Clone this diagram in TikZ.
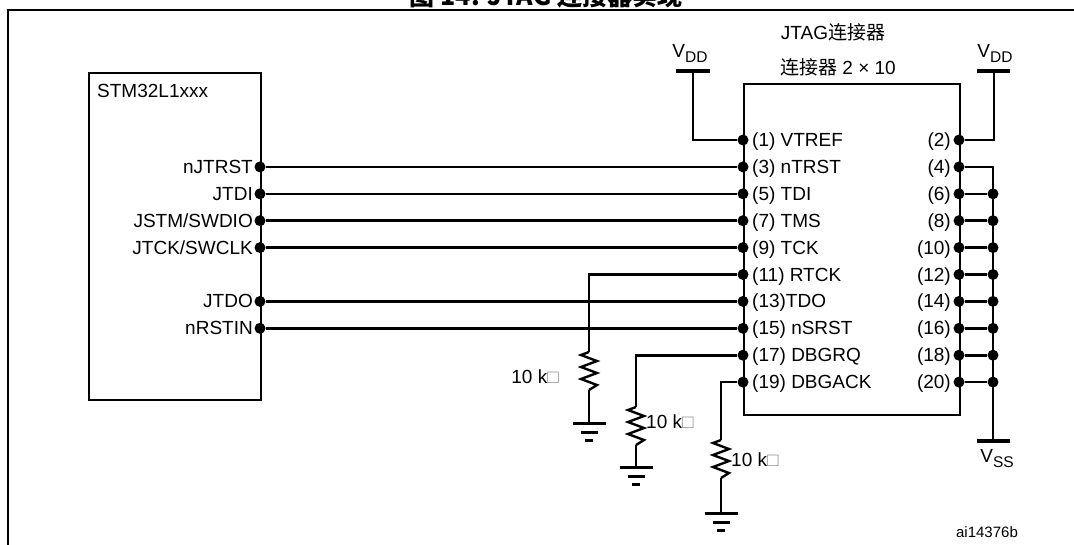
\documentclass[tikz,border=0pt]{standalone}
\usepackage{fontspec}
\setmainfont{Liberation Sans}
\newfontfamily\cjk{Noto Sans CJK SC}
\newcommand{\subtxt}[1]{\raisebox{-5pt}{\fontsize{15.5}{18}\selectfont #1}}
\begin{document}
\begin{tikzpicture}[x=1pt,y=-1pt,
  wire/.style={line width=2.6pt},
  boxline/.style={draw,line width=2.3pt,inner sep=0pt,anchor=north west},
  pindot/.style={circle,fill,inner sep=0pt,minimum size=11pt},
  lbl/.style={font=\fontsize{19}{22}\selectfont,inner sep=0pt},
  lblL/.style={lbl,anchor=base west},
  lblR/.style={lbl,anchor=base east},
  railbar/.style={line width=4.5pt},
  res/.pic={\draw[line width=2.4pt,line join=miter] (0,0) -- (-8,3) -- (8,9) -- (-8,15) -- (8,21) -- (-8,27) -- (8,33) -- (0,38);},
  gnd/.pic={\draw[line width=3pt] (-16.5,0) -- (16.5,0) (-8.5,9) -- (8.5,9) (-4,17) -- (4,17);}
]
\useasboundingbox (0,0) rectangle (1074,544);

% title (cut off at top) and outer frame
\node (title) [font=\cjk\bfseries\fontsize{25}{30}\selectfont,anchor=base,inner sep=0pt] at (546,5) {图 14. JTAG 连接器实现};
\draw[line width=2.6pt] (8,570) -- (8,10) -- (1100,10);

% MCU box
\node (stm) [boxline,minimum width=172pt,minimum height=327pt] at (88,72) {};
\node (stmlbl) [lbl,anchor=base west] at (97,97) {STM32L1xxx};

% connector box
\node (conn) [boxline,minimum width=216pt,minimum height=331pt] at (743,83) {};
\node (jtaglbl) [lbl,anchor=base] at (833,39) {JTAG{\cjk 连接器}};
\node (connlbl) [lbl,anchor=base] at (838,74) {{\cjk 连接器} 2 × 10};

% MCU pins
\node (s1) [pindot] at (260,166.9) {};
\node (s2) [pindot] at (260,193.8) {};
\node (s3) [pindot] at (260,220.7) {};
\node (s4) [pindot] at (260,247.6) {};
\node (s6) [pindot] at (260,301.4) {};
\node (s7) [pindot] at (260,328.3) {};
\node [lblR] at (253,173.4) {nJTRST};
\node [lblR] at (253,200.3) {JTDI};
\node [lblR] at (253,227.2) {JSTM/SWDIO};
\node [lblR] at (253,254.1) {JTCK/SWCLK};
\node [lblR] at (253,307.9) {JTDO};
\node [lblR] at (253,334.8) {nRSTIN};

% connector left pins
\node (c1) [pindot] at (743,140) {};
\node (c3) [pindot] at (743,166.9) {};
\node (c5) [pindot] at (743,193.8) {};
\node (c7) [pindot] at (743,220.7) {};
\node (c9) [pindot] at (743,247.6) {};
\node (c11) [pindot] at (743,274.5) {};
\node (c13) [pindot] at (743,301.4) {};
\node (c15) [pindot] at (743,328.3) {};
\node (c17) [pindot] at (743,355.2) {};
\node (c19) [pindot] at (743,382.1) {};
\node [lblL] at (752,146.5) {(1) VTREF};
\node [lblL] at (752,173.4) {(3) nTRST};
\node [lblL] at (752,200.3) {(5) TDI};
\node [lblL] at (752,227.2) {(7) TMS};
\node [lblL] at (752,254.1) {(9) TCK};
\node [lblL] at (752,281.0) {(11) RTCK};
\node [lblL] at (752,307.9) {(13)TDO};
\node [lblL] at (752,334.8) {(15) nSRST};
\node [lblL] at (752,361.7) {(17) DBGRQ};
\node [lblL] at (752,388.6) {(19) DBGACK};

% connector right pins
\node (r2) [pindot] at (959,140) {};
\node (r4) [pindot] at (959,166.9) {};
\node (r6) [pindot] at (959,193.8) {};
\node (r8) [pindot] at (959,220.7) {};
\node (r10) [pindot] at (959,247.6) {};
\node (r12) [pindot] at (959,274.5) {};
\node (r14) [pindot] at (959,301.4) {};
\node (r16) [pindot] at (959,328.3) {};
\node (r18) [pindot] at (959,355.2) {};
\node (r20) [pindot] at (959,382.1) {};
\node [lblR] at (951,146.5) {(2)};
\node [lblR] at (951,173.4) {(4)};
\node [lblR] at (951,200.3) {(6)};
\node [lblR] at (951,227.2) {(8)};
\node [lblR] at (951,254.1) {(10)};
\node [lblR] at (951,281.0) {(12)};
\node [lblR] at (951,307.9) {(14)};
\node [lblR] at (951,334.8) {(16)};
\node [lblR] at (951,361.7) {(18)};
\node [lblR] at (951,388.6) {(20)};

% VSS bus junctions
\coordinate (k4) at (993,166.9);
\node (j6) [pindot] at (993,193.8) {};
\node (j8) [pindot] at (993,220.7) {};
\node (j10) [pindot] at (993,247.6) {};
\node (j12) [pindot] at (993,274.5) {};
\node (j14) [pindot] at (993,301.4) {};
\node (j16) [pindot] at (993,328.3) {};
\node (j18) [pindot] at (993,355.2) {};
\node (j20) [pindot] at (993,382.1) {};
\coordinate (vss) at (993,441);
\draw[wire] (r4) -- (k4) -- (vss);
\draw[wire] (r6) -- (j6);
\draw[wire] (r8) -- (j8);
\draw[wire] (r10) -- (j10);
\draw[wire] (r12) -- (j12);
\draw[wire] (r14) -- (j14);
\draw[wire] (r16) -- (j16);
\draw[wire] (r18) -- (j18);
\draw[wire] (r20) -- (j20);
\draw[railbar] (977,441) -- (1010,441);
\node (vsslbl) [lbl,anchor=base] at (997,462) {V\subtxt{SS}};

% VDD rails
\coordinate (vddR) at (994,71);
\draw[wire] (r2) -| (vddR);
\draw[railbar] (977,71) -- (1010,71);
\node (vddRlbl) [lbl,anchor=base] at (995,57) {V\subtxt{DD}};
\coordinate (vddL) at (693,71);
\draw[wire] (c1) -| (vddL);
\draw[railbar] (676,71) -- (710,71);
\node (vddLlbl) [lbl,anchor=base] at (690,57) {V\subtxt{DD}};

% signal wires
\draw[wire] (s1) -- (c3);
\draw[wire] (s2) -- (c5);
\draw[wire] (s3) -- (c7);
\draw[wire] (s4) -- (c9);
\draw[wire] (s6) -- (c13);
\draw[wire] (s7) -- (c15);

% pull-down resistors
\coordinate (r1top) at (589,352);
\coordinate (r1bot) at (589,390);
\coordinate (g1) at (589,423);
\draw[wire] (c11) -| (r1top);
\pic at (r1top) {res};
\draw[wire] (r1bot) -- (g1);
\pic at (g1) {gnd};
\node [lblR] at (559,383) {10 k{\color{black!45}□}};

\coordinate (r2top) at (636,407);
\coordinate (r2bot) at (636,445);
\coordinate (g2) at (636,467);
\draw[wire] (c17) -| (r2top);
\pic at (r2top) {res};
\draw[wire] (r2bot) -- (g2);
\pic at (g2) {gnd};
\node [lblL] at (646,428) {10 k{\color{black!45}□}};

\coordinate (r3top) at (721,440);
\coordinate (r3bot) at (721,478);
\coordinate (g3) at (721,513);
\draw[wire] (c19) -| (r3top);
\pic at (r3top) {res};
\draw[wire] (r3bot) -- (g3);
\pic at (g3) {gnd};
\node [lblL] at (731,466) {10 k{\color{black!45}□}};

\node (ref) [font=\fontsize{15}{18}\selectfont,anchor=base,inner sep=0pt] at (987,537) {ai14376b};
\end{tikzpicture}
\end{document}
